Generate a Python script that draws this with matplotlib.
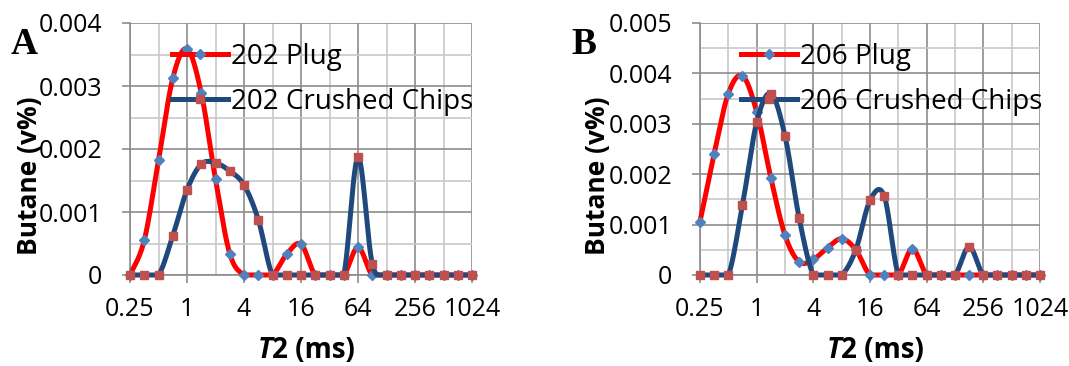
import numpy as np
import matplotlib
matplotlib.use("Agg")
import matplotlib.pyplot as plt
from matplotlib.ticker import FixedLocator, FixedFormatter, MultipleLocator, NullFormatter
from matplotlib.lines import Line2D

# ---------------- data ----------------
t2_ms = [0.25, 0.3536, 0.5, 0.7071, 1, 1.414, 2, 2.828, 4, 5.657, 8, 11.31,
         16, 22.63, 32, 45.25, 64, 90.51, 128, 181.0, 256, 362.0, 512, 724.1, 1024]

a_plug = [0, 0.00055, 0.00182, 0.00312, 0.00359, 0.00289, 0.00152, 0.00034,
          0, 0, 0, 0.00033, 0.00049, 0, 0, 0, 0.00044, 0,
          0, 0, 0, 0, 0, 0, 0]
a_chips = [0, 0, 0, 0.00062, 0.00135, 0.00176, 0.00178, 0.00165,
           0.00143, 0.00088, 0, 0, 0, 0, 0, 0, 0.00187, 0.00018,
           0, 0, 0, 0, 0, 0, 0]
b_plug = [0.00106, 0.00241, 0.0036, 0.00395, 0.00324, 0.00193, 0.00079, 0.00026,
          0.00031, 0.00054, 0.00072, 0.0005, 0, 0, 0, 0.00052, 0, 0,
          0, 0, 0, 0, 0, 0, 0]
b_chips = [0, 0, 0, 0.00139, 0.00303, 0.0036, 0.00276, 0.00113,
           0, 0, 0, 0.0005, 0.00148, 0.00157, 0, 0, 0, 0,
           0, 0.00056, 0, 0, 0, 0, 0]

x_ticks = [0.25, 1, 4, 16, 64, 256, 1024]
x_ticklabels = ["0.25", "1", "4", "16", "64", "256", "1024"]
x_minor = [0.5, 2, 8, 32, 128, 512]
a_yticks = [0, 0.001, 0.002, 0.003, 0.004]
a_yticklabels = ["0", "0.001", "0.002", "0.003", "0.004"]
b_yticks = [0, 0.001, 0.002, 0.003, 0.004, 0.005]
b_yticklabels = ["0", "0.001", "0.002", "0.003", "0.004", "0.005"]

a_labels = ["202 Plug", "202 Crushed Chips"]
b_labels = ["206 Plug", "206 Crushed Chips"]

# ---------------- style ----------------
FONT = "Open Sans"
RED = "#FF0000"
BLUE = "#1F497D"
DIAMOND = "#4F81BD"
SQUARE = "#C0504D"
GRID_MAJ = "#8C8C8C"
GRID_MIN = "#C8C8C8"

W, H = 1069, 366
fig = plt.figure(figsize=(W / 100, H / 100), dpi=100)


def smooth(xs, ys, n=24):
    """Excel-like smoothed line (cubic Bezier through points) in log2-x space."""
    P = np.column_stack([np.log2(np.asarray(xs, float)), np.asarray(ys, float)])
    E = np.vstack([P[0], P, P[-1]])
    segs = []
    for i in range(len(P) - 1):
        p0, p1, p2, p3 = E[i], E[i + 1], E[i + 2], E[i + 3]
        c1 = p1 + (p2 - p0) / 6.0
        c2 = p2 - (p3 - p1) / 6.0
        t = np.linspace(0, 1, n, endpoint=(i == len(P) - 2))[:, None]
        B = (1 - t) ** 3 * p1 + 3 * (1 - t) ** 2 * t * c1 + 3 * (1 - t) * t ** 2 * c2 + t ** 3 * p2
        segs.append(B)
    S = np.vstack(segs)
    return 2 ** S[:, 0], np.maximum(S[:, 1], 0)


def px_rect(l, t, r, b):
    return [l / W, 1 - b / H, (r - l) / W, (b - t) / H]


def panel(rect, plug, chips, yticks, yticklabels, labels, leg_xy, ylab_xy, xlab_x):
    ax = fig.add_axes(px_rect(*rect))
    ax.set_xscale("log", base=2)
    ax.set_xlim(t2_ms[0], t2_ms[-1])
    ax.set_ylim(yticks[0], yticks[-1])

    ax.xaxis.set_major_locator(FixedLocator(x_ticks))
    ax.xaxis.set_major_formatter(FixedFormatter(x_ticklabels))
    ax.xaxis.set_minor_locator(FixedLocator(x_minor))
    ax.xaxis.set_minor_formatter(NullFormatter())
    ax.yaxis.set_major_locator(FixedLocator(yticks))
    ax.yaxis.set_major_formatter(FixedFormatter(yticklabels))
    ax.yaxis.set_minor_locator(MultipleLocator(0.0005))

    ax.grid(True, which="major", color=GRID_MAJ, lw=1.2, zorder=0)
    ax.grid(True, which="minor", color=GRID_MIN, lw=1.2, zorder=0)
    ax.set_axisbelow(True)
    for s in ["top", "right"]:
        ax.spines[s].set_visible(False)
    for s in ["left", "bottom"]:
        ax.spines[s].set_color(GRID_MAJ)
        ax.spines[s].set_linewidth(1.2)

    ax.tick_params(axis="both", which="major", length=6, width=1.2, color=GRID_MAJ,
                   labelsize=18)
    ax.tick_params(axis="both", which="minor", length=0)
    ax.tick_params(axis="y", pad=14)
    ax.tick_params(axis="x", pad=10)
    for lab in ax.get_xticklabels() + ax.get_yticklabels():
        lab.set_fontfamily(FONT)

    xs, ys = smooth(t2_ms, plug)
    ax.plot(xs, ys, color=RED, lw=3.6, solid_capstyle="round", clip_on=False, zorder=3)
    ax.plot(t2_ms, plug, ls="none", marker="D", ms=4.6, mfc=DIAMOND, mec=DIAMOND,
            clip_on=False, zorder=4)
    xs, ys = smooth(t2_ms, chips)
    ax.plot(xs, ys, color=BLUE, lw=3.6, solid_capstyle="round", clip_on=False, zorder=5)
    ax.plot(t2_ms, chips, ls="none", marker="s", ms=5.2, mfc=SQUARE, mec=SQUARE,
            clip_on=False, zorder=6)

    handles = [
        Line2D([], [], color=RED, lw=3.6, marker="D", ms=4.6, mfc=DIAMOND, mec=DIAMOND),
        Line2D([], [], color=BLUE, lw=3.6, marker="s", ms=5.2, mfc=SQUARE, mec=SQUARE),
    ]
    ax.legend(handles, labels, loc="upper left",
              bbox_to_anchor=(leg_xy[0] / W, 1 - leg_xy[1] / H),
              bbox_transform=fig.transFigure, frameon=False, numpoints=1,
              borderpad=0, borderaxespad=0, handlelength=2.0, handletextpad=0.12,
              labelspacing=0.6, prop={"family": FONT, "size": 20})

    fig.text(ylab_xy[0] / W, 1 - ylab_xy[1] / H, "Butane (v%)", rotation=90,
             ha="center", va="center", family=FONT, weight="bold", fontsize=19)
    fig.text(xlab_x / W, 1 - 358 / H, "T", ha="right", va="baseline", family=FONT,
             weight="bold", style="italic", fontsize=20)
    fig.text(xlab_x / W, 1 - 358 / H, "2 (ms)", ha="left", va="baseline", family=FONT,
             weight="bold", fontsize=20)
    return ax


panel((130, 23, 472, 275), a_plug, a_chips, a_yticks, a_yticklabels, a_labels,
      (172, 43), (30, 176), 272)
panel((700, 23, 1040, 275), b_plug, b_chips, b_yticks, b_yticklabels, b_labels,
      (741, 43), (598, 176), 841)

fig.text(24 / W, 1 - 44 / H, "A", ha="center", va="center",
         family="Liberation Serif", weight="bold", fontsize=27)
fig.text(584 / W, 1 - 44 / H, "B", ha="center", va="center",
         family="Liberation Serif", weight="bold", fontsize=27)

fig.savefig("out.png", dpi=100)
